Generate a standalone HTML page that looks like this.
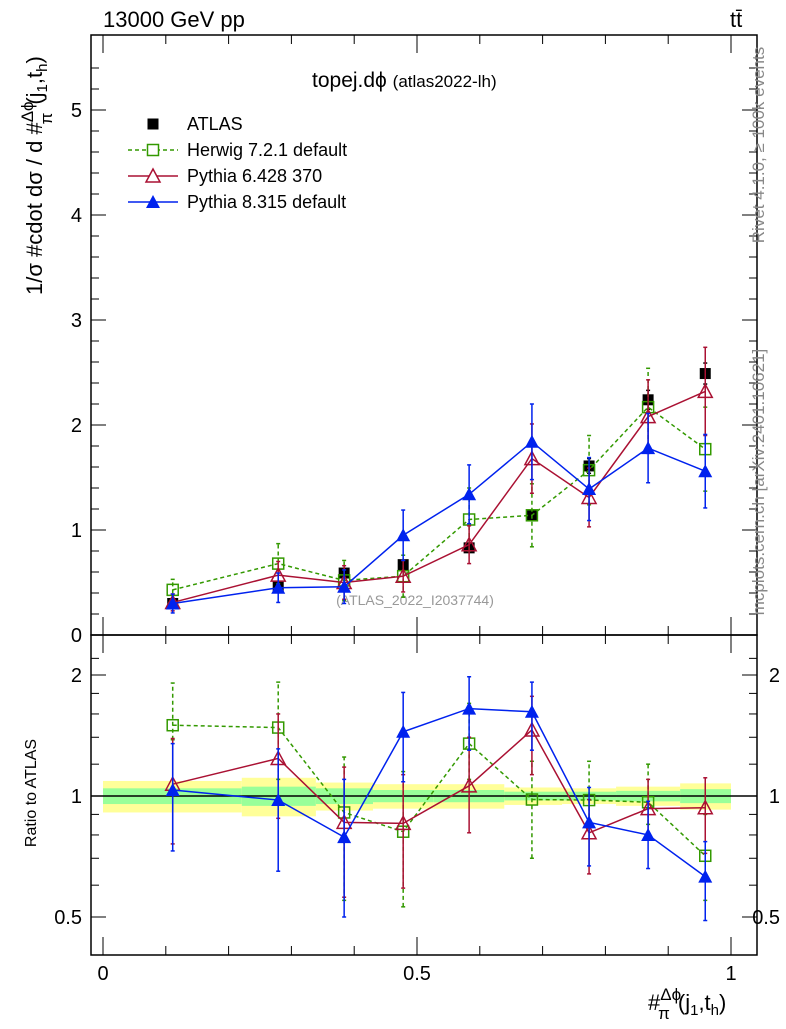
<!DOCTYPE html>
<html><head><meta charset="utf-8"><style>
body{margin:0;background:#fff}
svg{font-family:"Liberation Sans","DejaVu Sans",sans-serif}
</style></head><body>
<svg id="c" width="786" height="1024" viewBox="0 0 786 1024"></svg>
<script>
const binEdges=[0,0.221,0.339,0.430,0.526,0.639,0.731,0.817,0.919,1.0];
const xVals=[0.111,0.279,0.384,0.478,0.583,0.683,0.774,0.868,0.959];
const atlasY=[0.30,0.46,0.59,0.67,0.83,1.14,1.61,2.24,2.49];
const atlasErr=[0.02,0.03,0.03,0.03,0.04,0.05,0.07,0.09,0.10];
const herwigY=[0.43,0.68,0.52,0.56,1.10,1.14,1.57,2.17,1.77];
const herwigErr=[0.10,0.19,0.19,0.20,0.30,0.30,0.33,0.37,0.40];
const py6Y=[0.31,0.57,0.50,0.56,0.86,1.68,1.31,2.08,2.32];
const py6Err=[0.08,0.13,0.16,0.15,0.18,0.33,0.28,0.35,0.42];
const py8Y=[0.30,0.45,0.46,0.95,1.34,1.84,1.39,1.78,1.56];
const py8Err=[0.09,0.14,0.16,0.24,0.28,0.36,0.30,0.33,0.35];
const herwigR=[1.50,1.48,0.91,0.815,1.35,0.98,0.977,0.965,0.71];
const herwigRLo=[1.38,1.10,0.55,0.53,1.10,0.70,0.85,0.85,0.55];
const herwigRHi=[1.91,1.92,1.25,1.15,1.70,1.22,1.22,1.20,0.90];
const py6R=[1.07,1.24,0.86,0.855,1.06,1.46,0.81,0.93,0.935];
const py6RLo=[0.76,0.88,0.56,0.59,0.81,1.13,0.64,0.78,0.72];
const py6RHi=[1.39,1.60,1.18,1.13,1.40,1.77,0.98,1.10,1.11];
const py8R=[1.035,0.977,0.79,1.445,1.65,1.62,0.86,0.80,0.63];
const py8RLo=[0.73,0.65,0.50,1.085,1.30,1.30,0.67,0.66,0.49];
const py8RHi=[1.35,1.31,1.10,1.81,1.98,1.92,1.05,0.97,0.77];
const bandYellow=[0.09,0.11,0.08,0.07,0.07,0.05,0.045,0.055,0.075];
const bandGreen=[0.045,0.055,0.045,0.035,0.035,0.025,0.025,0.03,0.04];
const yTicks=[0,1,2,3,4,5];
const rTicks=[0.5,1,2];
const xTicks=[0,0.5,1];

const NS="http://www.w3.org/2000/svg";
const svg=document.getElementById('c');
function el(t,a,p){const e=document.createElementNS(NS,t);for(const k in a)e.setAttribute(k,a[k]);(p||svg).appendChild(e);return e;}
const X=v=>103+628*v;
const Y=v=>635-105*v;
const R=v=>796-121*Math.log2(v);
const L=91,Rt=757,T=35,MB=635,RB=955;

for(let i=0;i<binEdges.length-1;i++){
  let b=el('rect',{x:X(binEdges[i]),y:R(1+bandYellow[i]),width:X(binEdges[i+1])-X(binEdges[i]),height:R(1-bandYellow[i])-R(1+bandYellow[i]),fill:'#ffff99'});
  
  
  let g=el('rect',{x:X(binEdges[i]),y:R(1+bandGreen[i]),width:X(binEdges[i+1])-X(binEdges[i]),height:R(1-bandGreen[i])-R(1+bandGreen[i]),fill:'#99ff99'});
  
  
}
let ref=el('line',{x1:L,x2:Rt,y1:R(1),y2:R(1),stroke:'#000','stroke-width':1.5});



let f1=el('rect',{x:L,y:T,width:Rt-L,height:MB-T,fill:'none',stroke:'#000','stroke-width':1.5});


let f2=el('rect',{x:L,y:MB,width:Rt-L,height:RB-MB,fill:'none',stroke:'#000','stroke-width':1.5});



for(let v=0;v<=5.6;v+=0.2){
  const maj=Math.abs(v-Math.round(v))<1e-6;const len=maj?15:8;const y=Y(v);
  if(y<T)continue;
  el('line',{x1:L,x2:L+len,y1:y,y2:y,stroke:'#000'});
  el('line',{x1:Rt,x2:Rt-len,y1:y,y2:y,stroke:'#000'});
}
yTicks.forEach(v=>{let t=el('text',{x:82,y:Y(v)+7,'font-size':20,'text-anchor':'end'});t.textContent=v;
});
[0.4,0.5,0.6,0.7,0.8,0.9,1,1.2,1.4,1.6,1.8,2,2.2].forEach(v=>{
  const y=R(v);if(y>RB||y<MB)return;const maj=rTicks.includes(v);const len=maj?15:8;
  el('line',{x1:L,x2:L+len,y1:y,y2:y,stroke:'#000'});
  el('line',{x1:Rt,x2:Rt-len,y1:y,y2:y,stroke:'#000'});
});
rTicks.forEach(v=>{
  let t=el('text',{x:82,y:R(v)+7,'font-size':20,'text-anchor':'end'});t.textContent=v;
  
  let t2=el('text',{x:780,y:R(v)+7,'font-size':20,'text-anchor':'end'});t2.textContent=v;
  
});
for(let i=0;i<=20;i++){const v=i*0.05;const x=X(v);if(x<L||x>Rt)continue;
  const maj=i%10==0;const mid=i%2==0;const len=maj?18:9;
  if(!mid)continue;
  [MB,RB].forEach(b=>el('line',{x1:x,x2:x,y1:b,y2:b-len,stroke:'#000'}));
  el('line',{x1:x,x2:x,y1:MB,y2:MB+len,stroke:'#000'});
  el('line',{x1:x,x2:x,y1:T,y2:T+len,stroke:'#000'});
}
xTicks.forEach(v=>{let t=el('text',{x:X(v),y:980,'font-size':20,'text-anchor':'middle'});t.textContent=v;
});

let wm=el('text',{x:415,y:605,'font-size':14,fill:'#999','text-anchor':'middle'});wm.textContent='(ATLAS_2022_I2037744)';


function series(name,vals,lo,hi,ys,color,dash,kind,line){
  const g=el('g',{});
  
  
  const pts=xVals.map((x,i)=>[X(x),ys(vals[i])]);
  if(line)el('polyline',{points:pts.map(p=>p.join(',')).join(' '),fill:'none',stroke:color,'stroke-width':1.5,'stroke-dasharray':dash||'none'},g);
  xVals.forEach((x,i)=>{const px=X(x);const a=ys(lo[i]),b=ys(hi[i]);
    el('line',{x1:px,x2:px,y1:a,y2:b,stroke:color,'stroke-width':1.5,'stroke-dasharray':dash||'none'},g);
    el('line',{x1:px-2,x2:px+2,y1:a,y2:a,stroke:color,'stroke-width':1.5},g);
    el('line',{x1:px-2,x2:px+2,y1:b,y2:b,stroke:color,'stroke-width':1.5},g);
  });
  pts.forEach(p=>{
    if(kind==='sq')el('rect',{x:p[0]-5.5,y:p[1]-5.5,width:11,height:11,fill:'none',stroke:color,'stroke-width':1.5},g);
    else if(kind==='fsq')el('rect',{x:p[0]-5.5,y:p[1]-5.5,width:11,height:11,fill:color},g);
    else if(kind==='tri')el('path',{d:`M${p[0]},${p[1]-7}L${p[0]+7},${p[1]+6}L${p[0]-7},${p[1]+6}Z`,fill:'none',stroke:color,'stroke-width':1.5},g);
    else el('path',{d:`M${p[0]},${p[1]-7}L${p[0]+7},${p[1]+6}L${p[0]-7},${p[1]+6}Z`,fill:color},g);
  });
}
const sub=(a,e)=>a.map((v,i)=>v-e[i]), add=(a,e)=>a.map((v,i)=>v+e[i]);
series('atlas-data',atlasY,sub(atlasY,atlasErr),add(atlasY,atlasErr),Y,'#000',null,'fsq',false);
series('herwig-series',herwigY,sub(herwigY,herwigErr),add(herwigY,herwigErr),Y,'#339900','4,3','sq',true);
series('pythia6-series',py6Y,sub(py6Y,py6Err),add(py6Y,py6Err),Y,'#aa1133',null,'tri',true);
series('pythia8-series',py8Y,sub(py8Y,py8Err),add(py8Y,py8Err),Y,'#0022ee',null,'ftri',true);
series('herwig-ratio',herwigR,herwigRLo,herwigRHi,R,'#339900','4,3','sq',true);
series('pythia6-ratio',py6R,py6RLo,py6RHi,R,'#aa1133',null,'tri',true);
series('pythia8-ratio',py8R,py8RLo,py8RHi,R,'#0022ee',null,'ftri',true);

const legNames=['ATLAS','Herwig 7.2.1 default','Pythia 6.428 370','Pythia 8.315 default'];
const legCols=['#000','#339900','#aa1133','#0022ee'];
const legKinds=['fsq','sq','tri','ftri'];
legNames.forEach((n,i)=>{const y=124+26*i;const g=el('g',{});
  
  
  if(i>0)el('line',{x1:128,x2:178,y1:y,y2:y,stroke:legCols[i],'stroke-width':1.5,'stroke-dasharray':i==1?'4,3':'none'},g);
  const x=153;
  if(legKinds[i]==='fsq')el('rect',{x:x-5.5,y:y-5.5,width:11,height:11,fill:'#000'},g);
  else if(legKinds[i]==='sq')el('rect',{x:x-5.5,y:y-5.5,width:11,height:11,fill:'#fff',stroke:legCols[i],'stroke-width':1.5},g);
  else if(legKinds[i]==='tri')el('path',{d:`M${x},${y-7}L${x+7},${y+6}L${x-7},${y+6}Z`,fill:'#fff',stroke:legCols[i],'stroke-width':1.5},g);
  else el('path',{d:`M${x},${y-7}L${x+7},${y+6}L${x-7},${y+6}Z`,fill:legCols[i]},g);
  const t=el('text',{x:187,y:y+6,'font-size':18},g);t.textContent=n;
});
</script>
<svg style="position:absolute;left:0;top:0" width="786" height="1024">
<text x="103" y="27" font-size="22" font-family="Liberation Sans">13000 GeV pp</text>
<text x="730" y="27" font-size="22" font-family="Liberation Sans">tt̄</text>
<text x="312" y="87" font-size="21" font-family="Liberation Sans">topej.dϕ <tspan font-size="17">(atlas2022-lh)</tspan></text>
<text transform="translate(764,145) rotate(-90)" font-size="17" fill="#888" text-anchor="middle" font-family="Liberation Sans">Rivet 4.1.0, ≥ 100k events</text>
<text transform="translate(764,482) rotate(-90)" font-size="17" fill="#888" text-anchor="middle" font-family="Liberation Sans">mcplots.cern.ch [arXiv:2401.10621]</text>
<text transform="translate(42,295) rotate(-90)" font-size="22" font-family="Liberation Sans">1/σ #cdot dσ / d #<tspan font-size="17" dy="-9">Δϕ</tspan><tspan font-size="17" dx="-23" dy="19">π</tspan><tspan dx="8" dy="-10">(j</tspan><tspan font-size="15" dy="5">1</tspan><tspan dy="-5">,t</tspan><tspan font-size="15" dy="5">h</tspan><tspan dy="-5">)</tspan></text>
<text x="36" y="793" transform="rotate(-90 36 793)" font-size="16" text-anchor="middle" font-family="Liberation Sans">Ratio to ATLAS</text>
<text x="648" y="1010" font-size="22" font-family="Liberation Sans">#<tspan font-size="17" dy="-10">Δϕ</tspan><tspan font-size="17" dx="-23" dy="19">π</tspan><tspan dx="8" dy="-9">(j</tspan><tspan font-size="15" dy="5">1</tspan><tspan dy="-5">,t</tspan><tspan font-size="15" dy="5">h</tspan><tspan dy="-5">)</tspan></text>
</svg>
</body></html>
